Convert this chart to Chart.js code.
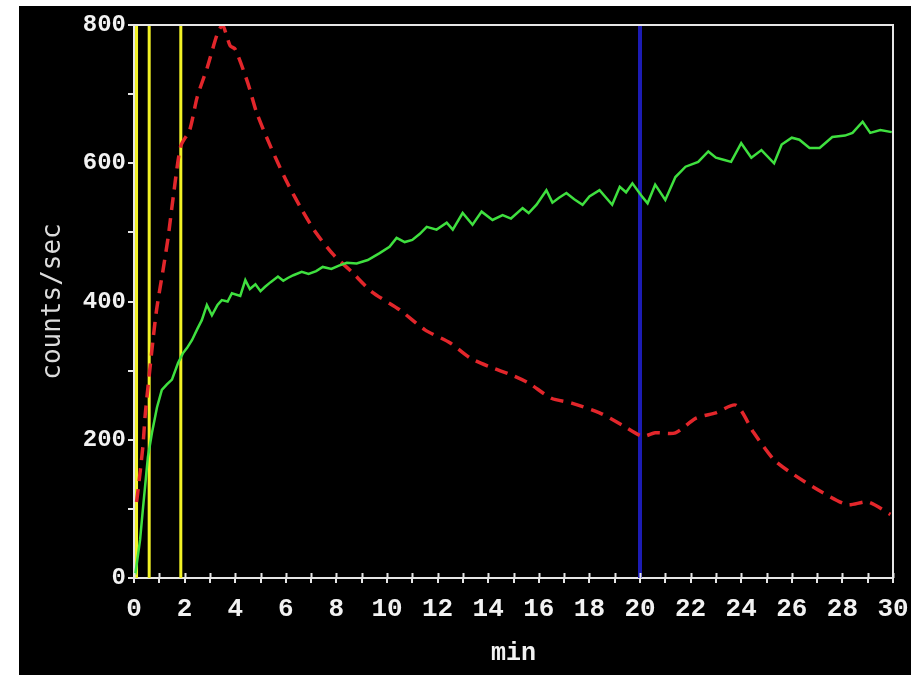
<!DOCTYPE html>
<html>
<head>
<meta charset="utf-8">
<script src="https://cdn.jsdelivr.net/npm/chart.js@4/dist/chart.umd.min.js"></script>
<style>
  body { margin: 0; background: #fff; overflow: hidden; }
  #wrap { position: absolute; left: 19px; top: 6px; width: 892px; height: 669px; background: #000; }
</style>
</head>
<body>
<div id="wrap"><canvas id="chart"></canvas></div>
<script>
// green trace (solid)
const greenT = [
    0.05, 0.24, 0.36, 0.55, 0.71, 0.91, 1.1, 1.3, 1.5, 1.74,
    1.93, 2.1, 2.29, 2.5, 2.68, 2.88, 3.08, 3.3, 3.47, 3.7,
    3.87, 4.2, 4.4, 4.58, 4.8, 5.0, 5.17, 5.4, 5.69, 5.9,
    6.08, 6.3, 6.63, 6.9, 7.2, 7.46, 7.8, 8.1, 8.41, 8.8,
    9.24, 9.71, 10.1, 10.38, 10.7, 11.0, 11.3, 11.57, 11.96, 12.36,
    12.6, 12.99, 13.38, 13.74, 14.17, 14.57, 14.9, 15.36, 15.6, 15.91,
    16.3, 16.54, 16.8, 17.09, 17.4, 17.73, 18.0, 18.4, 18.9, 19.2,
    19.45, 19.7, 20.1, 20.3, 20.6, 21.0, 21.4, 21.8, 22.3, 22.7,
    23.0, 23.3, 23.6, 24.0, 24.4, 24.8, 25.3, 25.6, 26.0, 26.3,
    26.7, 27.1, 27.6, 28.1, 28.4, 28.8, 29.1, 29.5, 29.95
];
const greenV = [
    5, 55, 103, 175, 210, 247, 272, 280, 287, 311,
    325, 333, 344, 360, 373, 395, 380, 395, 402, 400,
    412, 408, 431, 418, 425, 415, 421, 428, 436, 430,
    434, 438, 443, 440, 444, 450, 447, 452, 456, 455,
    460, 470, 479, 492, 486, 489, 498, 508, 504, 514,
    504, 528, 511, 530, 518, 525, 520, 535, 528, 540,
    561, 543, 550, 557, 548, 540, 552, 561, 540, 566,
    558, 571, 551, 542, 569, 547, 580, 595, 602, 617,
    608, 605, 602, 629, 608, 619, 600, 627, 637, 634,
    622, 622, 638, 640, 644, 660, 644, 648, 645
];

// red trace (dashed)
const redT = [
    0.1, 0.16, 0.35, 0.45, 0.75, 0.9, 1.15, 1.35, 1.55, 1.85,
    2.2, 2.5, 2.9, 3.3, 3.5, 3.8, 4.0, 4.5, 4.85, 5.4,
    6.0, 6.6, 7.2, 7.9, 8.6, 9.4, 10.5, 11.5, 12.5, 13.3,
    14.1, 14.9, 15.6, 16.5, 17.3, 18.4, 19.3, 20.1, 20.6, 21.4,
    22.2, 23.0, 23.8, 24.5, 25.3, 26.1, 27.2, 28.2, 29.0, 29.9
];
const redV = [
    110, 127, 190, 239, 344, 390, 446, 493, 551, 625,
    648, 696, 739, 788, 800, 770, 765, 716, 673, 624,
    576, 535, 499, 467, 443, 414, 388, 359, 340, 318,
    305, 294, 282, 260, 253, 239, 221, 205, 210, 210,
    231, 239, 250, 210, 171, 149, 124, 106, 110, 92
];

// vertical markers (min)
const yellowMarks = [0.1, 0.6, 1.85];
const blueMarks = [20];

const xLabels = [0, 2, 4, 6, 8, 10, 12, 14, 16, 18, 20, 22, 24, 26, 28, 30];
const yLabels = [0, 200, 400, 600, 800];

function pairs(ts, vs) {
    return ts.map((t, i) => ({ x: t, y: vs[i] }));
}

function markerSet(x, color, width) {
    return {
        data: [{ x: x, y: 0 }, { x: x, y: 800 }],
        borderColor: color,
        borderWidth: width,
        pointRadius: 0,
        order: 2
    };
}

const datasets = [
    {
        data: pairs(greenT, greenV),
        borderColor: '#3fe03f',
        borderWidth: 2.5,
        pointRadius: 0,
        tension: 0,
        order: 0
    },
    {
        data: pairs(redT, redV),
        borderColor: '#e2262b',
        borderWidth: 3.5,
        borderDash: [13, 8],
        pointRadius: 0,
        tension: 0.25,
        order: 1
    }
];
yellowMarks.forEach(m => datasets.push(markerSet(m, '#f2f226', 3)));
blueMarks.forEach(m => datasets.push(markerSet(m, '#1c1cb4', 4)));

// white frame on top/right plus inward x tick marks
const frame = {
    id: 'frame',
    afterDraw(chart) {
        const { ctx, chartArea: a, scales } = chart;
        ctx.save();
        ctx.strokeStyle = '#e6e6e6';
        ctx.lineWidth = 2;
        ctx.beginPath();
        ctx.moveTo(a.left, a.top);
        ctx.lineTo(a.right, a.top);
        ctx.lineTo(a.right, a.bottom);
        ctx.stroke();
        ctx.beginPath();
        scales.x.ticks.forEach(t => {
            const px = Math.round(scales.x.getPixelForValue(t.value)) + 0.5;
            ctx.moveTo(px, a.bottom);
            ctx.lineTo(px, a.bottom - 5);
        });
        ctx.stroke();
        ctx.restore();
    }
};

new Chart(document.getElementById('chart'), {
    type: 'line',
    data: { datasets: datasets },
    plugins: [frame],
    options: {
        responsive: true,
        maintainAspectRatio: false,
        animation: false,
        layout: { padding: { top: 19, right: 18, left: 0, bottom: 0 } },
        plugins: { legend: { display: false }, tooltip: { enabled: false } },
        scales: {
            x: {
                type: 'linear',
                min: 0,
                max: 30,
                afterFit: s => { s.height = 97; s.paddingRight = 0; s.paddingLeft = 0; },
                border: { color: '#e6e6e6', width: 2 },
                grid: { drawOnChartArea: false, color: '#e6e6e6', lineWidth: 2, tickLength: 5 },
                ticks: {
                    stepSize: 1,
                    autoSkip: false,
                    maxRotation: 0,
                    padding: 11,
                    color: '#f2f2f2',
                    font: { family: 'Liberation Mono', size: 26, weight: 'bold' },
                    callback: v => xLabels.includes(v) ? String(v) : ''
                },
                title: {
                    display: true,
                    text: 'min',
                    color: '#f2f2f2',
                    font: { family: 'Liberation Mono', size: 25, weight: 'bold' },
                    padding: { top: 0, bottom: 6 }
                }
            },
            y: {
                min: 0,
                max: 800,
                afterFit: s => { s.width = 115; },
                border: { color: '#e6e6e6', width: 2 },
                grid: { drawOnChartArea: false, color: '#e6e6e6', lineWidth: 2, tickLength: 6 },
                ticks: {
                    stepSize: 100,
                    autoSkip: false,
                    padding: 2,
                    color: '#f2f2f2',
                    font: { family: 'Liberation Mono', size: 24, weight: 'bold' },
                    callback: v => yLabels.includes(v) ? String(v) : ''
                },
                title: {
                    display: true,
                    text: 'counts/sec',
                    color: '#dcdcdc',
                    font: { family: 'DejaVu Sans Mono', size: 26 },
                    padding: { top: 19, bottom: 0 }
                }
            }
        }
    }
});
</script>
</body>
</html>
